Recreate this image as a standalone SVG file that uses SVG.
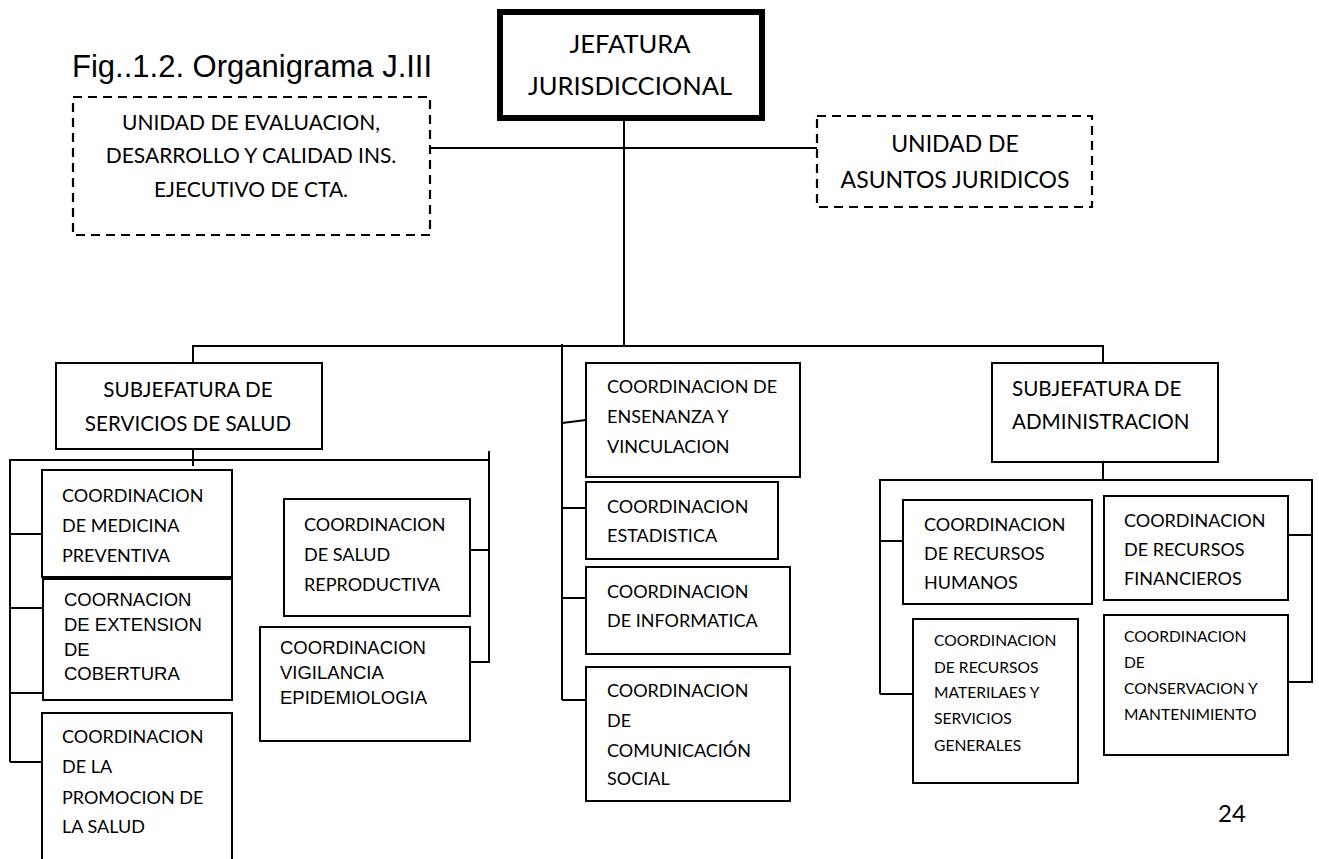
<svg xmlns="http://www.w3.org/2000/svg" width="1319" height="859" viewBox="0 0 1319 859">
<style>
  .bg{fill:#fff}
  .box{fill:#fff;stroke:#000;stroke-width:2}
  .thick{fill:#fff;stroke:#000;stroke-width:6}
  .dash{fill:#fff;stroke:#000;stroke-width:2.2;stroke-dasharray:9 6}
  .conn{fill:none;stroke:#000;stroke-width:2}
  text{font-family:Lato,"Open Sans",sans-serif;fill:#000}
  .c{text-anchor:middle}
  .big{font-size:25.5px}
  .mid{font-size:21px}
  .sub{font-size:20.6px}
  .t{font-size:18px}
  .s{font-size:15.6px}
  .ar{font-family:"Liberation Sans",Arial,sans-serif;font-size:18.5px}
  .title{font-family:"Liberation Sans",Arial,sans-serif;font-size:31px}
</style>
<rect class="bg" x="0" y="0" width="1319" height="859"/>
<text class="title" x="72" y="77">Fig..1.2. Organigrama J.III</text>

<g id="connectors">
  <path class="conn" d="M430 148 H817"/>
  <path class="conn" d="M624 121 V346"/>
  <path class="conn" d="M193 364 V346 H1103 V363"/>
  <path class="conn" d="M562 344 V700"/>
  <path class="conn" d="M562 423 L586 420"/>
  <path class="conn" d="M562 508 H586 M562 598 H586 M562 700 H586"/>
  <path class="conn" d="M193 449 V466"/>
  <path class="conn" d="M10 762 V460 H489"/>
  <path class="conn" d="M489 451 V662 H470 M470 550 H489"/>
  <path class="conn" d="M10 534 H42 M10 608 H43 M10 693 H43 M10 762 H42"/>
  <path class="conn" d="M1103 462 V480"/>
  <path class="conn" d="M880 694 V480 H1312 V682 H1288"/>
  <path class="conn" d="M880 541 H903 M1288 535 H1312 M880 694 H913"/>
</g>

<g id="jefatura">
  <rect class="thick" x="500" y="12" width="262" height="106"/>
  <text class="c big" x="630" y="53">JEFATURA</text>
  <text class="c big" x="630" y="95">JURISDICCIONAL</text>
</g>
<g id="unidad-evaluacion">
  <rect class="dash" x="73" y="97" width="357" height="138"/>
  <text class="c mid" x="251" y="130">UNIDAD DE EVALUACION,</text>
  <text class="c mid" x="251" y="163">DESARROLLO Y CALIDAD INS.</text>
  <text class="c mid" x="251" y="197">EJECUTIVO DE CTA.</text>
</g>
<g id="unidad-juridicos">
  <rect class="dash" x="817" y="116" width="275" height="91"/>
  <text class="c big" x="955" y="152" style="font-size:23px">UNIDAD DE</text>
  <text class="c big" x="955" y="188" style="font-size:23px">ASUNTOS JURIDICOS</text>
</g>

<g id="subjefatura-salud">
  <rect class="box" x="56" y="363" width="266" height="86"/>
  <text class="c sub" x="188" y="397">SUBJEFATURA DE</text>
  <text class="c sub" x="188" y="431">SERVICIOS DE SALUD</text>
</g>
<g id="medicina-preventiva">
  <rect class="box" x="42" y="470" width="190" height="107"/>
  <text class="t" x="62" y="502">COORDINACION</text>
  <text class="t" x="62" y="532">DE MEDICINA</text>
  <text class="t" x="62" y="562">PREVENTIVA</text>
</g>
<g id="extension-cobertura">
  <rect class="box" x="43" y="579" width="189" height="121"/>
  <text class="ar" x="64" y="606">COORNACION</text>
  <text class="ar" x="64" y="631">DE EXTENSION</text>
  <text class="ar" x="64" y="656">DE</text>
  <text class="ar" x="64" y="680">COBERTURA</text>
</g>
<g id="promocion-salud">
  <rect class="box" x="42" y="713" width="190" height="152"/>
  <text class="t" x="62" y="743">COORDINACION</text>
  <text class="t" x="62" y="773">DE LA</text>
  <text class="t" x="62" y="804">PROMOCION DE</text>
  <text class="t" x="62" y="833">LA SALUD</text>
</g>
<g id="salud-reproductiva">
  <rect class="box" x="284" y="499" width="186" height="117"/>
  <text class="t" x="304" y="531">COORDINACION</text>
  <text class="t" x="304" y="561">DE SALUD</text>
  <text class="t" x="304" y="591">REPRODUCTIVA</text>
</g>
<g id="vigilancia-epidemiologia">
  <rect class="box" x="260" y="627" width="210" height="114"/>
  <text class="ar" x="280" y="654">COORDINACION</text>
  <text class="ar" x="280" y="679">VIGILANCIA</text>
  <text class="ar" x="280" y="704">EPIDEMIOLOGIA</text>
</g>

<g id="ensenanza">
  <rect class="box" x="586" y="363" width="214" height="114"/>
  <text class="t" x="607" y="393">COORDINACION DE</text>
  <text class="t" x="607" y="423">ENSENANZA Y</text>
  <text class="t" x="607" y="453">VINCULACION</text>
</g>
<g id="estadistica">
  <rect class="box" x="586" y="482" width="192" height="77"/>
  <text class="t" x="607" y="513">COORDINACION</text>
  <text class="t" x="607" y="542">ESTADISTICA</text>
</g>
<g id="informatica">
  <rect class="box" x="586" y="567" width="204" height="87"/>
  <text class="t" x="607" y="598">COORDINACION</text>
  <text class="t" x="607" y="627">DE INFORMATICA</text>
</g>
<g id="comunicacion-social">
  <rect class="box" x="586" y="667" width="204" height="134"/>
  <text class="t" x="607" y="697">COORDINACION</text>
  <text class="t" x="607" y="727">DE</text>
  <text class="t" x="607" y="757">COMUNICACIÓN</text>
  <text class="t" x="607" y="785">SOCIAL</text>
</g>

<g id="subjefatura-administracion">
  <rect class="box" x="992" y="363" width="226" height="99"/>
  <text class="sub" x="1012" y="396">SUBJEFATURA DE</text>
  <text class="sub" x="1012" y="429">ADMINISTRACION</text>
</g>
<g id="recursos-humanos">
  <rect class="box" x="903" y="500" width="189" height="104"/>
  <text class="t" x="924" y="531">COORDINACION</text>
  <text class="t" x="924" y="560">DE RECURSOS</text>
  <text class="t" x="924" y="589">HUMANOS</text>
</g>
<g id="recursos-financieros">
  <rect class="box" x="1104" y="496" width="184" height="104"/>
  <text class="t" x="1124" y="527">COORDINACION</text>
  <text class="t" x="1124" y="556">DE RECURSOS</text>
  <text class="t" x="1124" y="585">FINANCIEROS</text>
</g>
<g id="recursos-materiales">
  <rect class="box" x="913" y="619" width="165" height="164"/>
  <text class="s" x="934" y="646">COORDINACION</text>
  <text class="s" x="934" y="673">DE RECURSOS</text>
  <text class="s" x="934" y="698">MATERILAES Y</text>
  <text class="s" x="934" y="724">SERVICIOS</text>
  <text class="s" x="934" y="751">GENERALES</text>
</g>
<g id="conservacion-mantenimiento">
  <rect class="box" x="1104" y="615" width="184" height="140"/>
  <text class="s" x="1124" y="642">COORDINACION</text>
  <text class="s" x="1124" y="668">DE</text>
  <text class="s" x="1124" y="694">CONSERVACION Y</text>
  <text class="s" x="1124" y="720">MANTENIMIENTO</text>
</g>
<text class="c" x="1232" y="822" style="font-size:24px">24</text>
</svg>
